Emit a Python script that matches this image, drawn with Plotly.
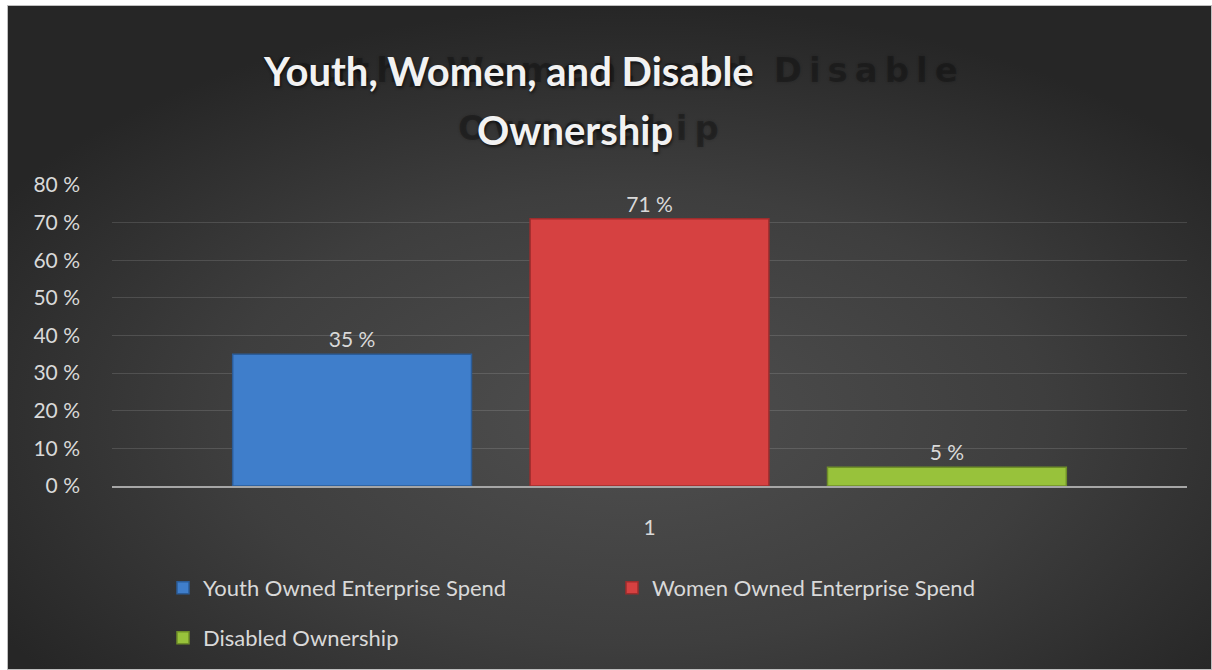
import base64
import plotly.graph_objects as go

categories = ["1"]
series_names = ["Youth Owned Enterprise Spend", "Women Owned Enterprise Spend", "Disabled Ownership"]
series_values = [[35], [71], [5]]
series_colors = ["#3f7ecb", "#d64141", "#98c23b"]
series_edges = ["#2b5c98", "#9e2d2d", "#6f8f28"]
y_ticks = [0, 10, 20, 30, 40, 50, 60, 70, 80]
y_tick_labels = [f"{v} %" for v in y_ticks]
title_line1 = "Youth, Women, and Disable"
title_line2 = "Ownership"

W, H = 1212, 670
L, R, T, B = 112, 25, 185, 184
pw, ph = W - L - R, H - T - B

def px_x(p):
    return (p - L) / pw

def px_y(p):
    return (H - B - p) / ph

svg = """<svg xmlns='http://www.w3.org/2000/svg' width='1205' height='665' viewBox='0 0 1205 665' preserveAspectRatio='none'>
<defs><radialGradient id='g' cx='0.52' cy='0.62' r='0.62'>
<stop offset='0' stop-color='#4f4f4f'/><stop offset='0.55' stop-color='#3e3e3e'/><stop offset='1' stop-color='#262626'/>
</radialGradient></defs>
<rect x='0' y='0' width='1205' height='665' fill='url(#g)'/>
<rect x='0.5' y='0.5' width='1204' height='664' fill='none' stroke='#bfbfbf' stroke-width='1'/>
</svg>"""
bg_src = "data:image/svg+xml;base64," + base64.b64encode(svg.encode()).decode()

FS = 21

fig = go.Figure()
for i, (name, vals) in enumerate(zip(series_names, series_values)):
    fig.add_trace(go.Bar(
        x=categories, y=vals, name=name,
        marker=dict(color=series_colors[i], line=dict(color=series_edges[i], width=1.5)),
        text=[f"{v} %" for v in vals], textposition="outside",
        textfont=dict(color="#d9d9d9", size=FS, family="Lato"),
        cliponaxis=False,
        legend="legend" if i < 2 else "legend2",
    ))

fig.update_layout(
    width=W, height=H,
    margin=dict(l=L, r=R, t=T, b=B),
    paper_bgcolor="#ffffff",
    plot_bgcolor="rgba(0,0,0,0)",
    barmode="group", bargap=0.17, bargroupgap=0.197,
    font=dict(family="Lato", color="#d9d9d9", size=FS),
    showlegend=True,
    legend=dict(orientation="h", xref="container", yref="container",
                x=163 / W, y=1 - 567 / H, xanchor="left", yanchor="top",
                entrywidthmode="pixels", entrywidth=404,
                font=dict(size=22, color="#d9d9d9"), bgcolor="rgba(0,0,0,0)",
                itemwidth=30, traceorder="normal"),
    legend2=dict(orientation="h", xref="container", yref="container",
                 x=163 / W, y=1 - 617 / H, xanchor="left", yanchor="top",
                 font=dict(size=22, color="#d9d9d9"), bgcolor="rgba(0,0,0,0)",
                 itemwidth=30),
    images=[dict(source=bg_src, xref="paper", yref="paper",
                 x=px_x(7), y=px_y(5), sizex=(W - 7) / pw, sizey=(H - 5) / ph,
                 xanchor="left", yanchor="top", sizing="stretch", layer="below")],
)

fig.update_yaxes(range=[0, 80], tickvals=y_ticks, ticktext=y_tick_labels,
                 showgrid=True, gridcolor="rgba(255,255,255,0.13)", gridwidth=1,
                 zeroline=False, showline=False, ticks="",
                 tickfont=dict(size=FS, color="#d9d9d9", family="Lato"),
                 ticklabelstandoff=31)
fig.update_xaxes(type="category", showline=True, linecolor="#a6a6a6", linewidth=2,
                 ticks="", tickfont=dict(size=FS, color="#d9d9d9", family="Lato"),
                 ticklabelstandoff=22, showgrid=False)

# shadow title (offset, spaced, dark)
shadow_font = dict(family="DejaVu Sans", size=34, color="rgba(15,15,15,0.42)", weight="bold",
                   shadow="0px 0px 3px rgba(15,15,15,0.5)")
fig.add_annotation(x=px_x(613), y=px_y(70), xref="paper", yref="paper",
                   text=f"<span style='letter-spacing:7px'>{title_line1}</span>",
                   showarrow=False, font=shadow_font, xanchor="center", yanchor="middle")
fig.add_annotation(x=px_x(592), y=px_y(128), xref="paper", yref="paper",
                   text=f"<span style='letter-spacing:7px'>{title_line2}</span>",
                   showarrow=False, font=shadow_font, xanchor="center", yanchor="middle")
# main title
title_font = dict(family="Lato", size=40, color="#f2f2f2", shadow="1px 2px 3px rgba(0,0,0,0.6)")
fig.add_annotation(x=px_x(508), y=px_y(71), xref="paper", yref="paper",
                   text=f"<b>{title_line1}</b>", showarrow=False,
                   font=title_font, xanchor="center", yanchor="middle")
fig.add_annotation(x=px_x(575), y=px_y(130), xref="paper", yref="paper",
                   text=f"<b>{title_line2}</b>", showarrow=False,
                   font=title_font, xanchor="center", yanchor="middle")

fig.write_html("out.html")
